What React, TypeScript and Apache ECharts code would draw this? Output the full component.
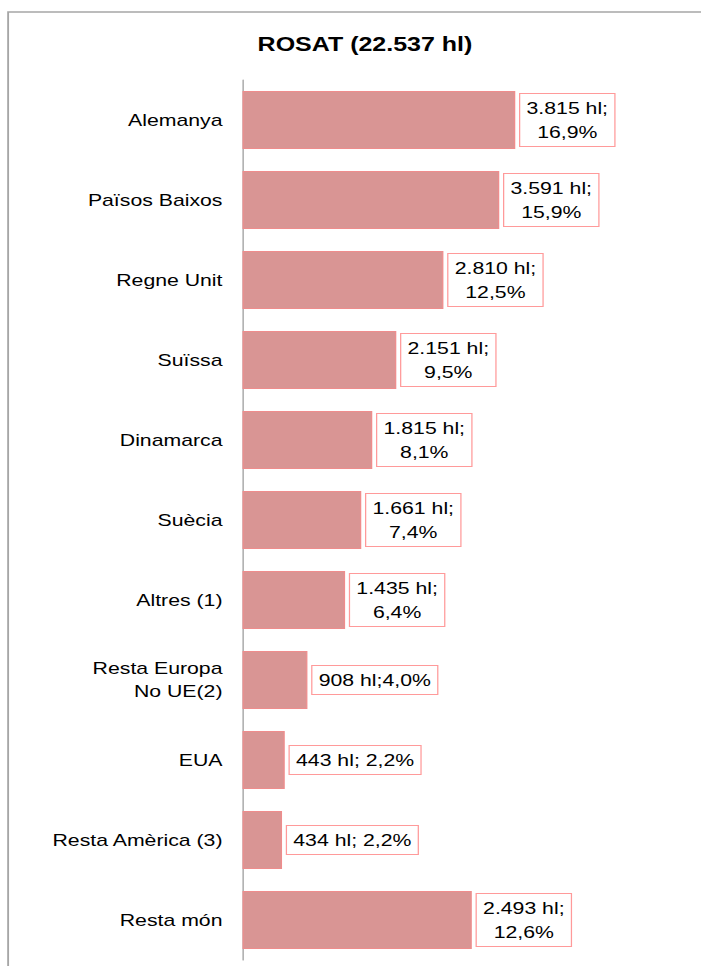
import React, { useEffect, useRef } from "react";
import * as echarts from "echarts";

const categories = [
  "Alemanya",
  "Països Baixos",
  "Regne Unit",
  "Suïssa",
  "Dinamarca",
  "Suècia",
  "Altres (1)",
  "Resta Europa\nNo UE(2)",
  "EUA",
  "Resta Amèrica (3)",
  "Resta món",
];

// bar lengths (hl) as drawn
const volumes = [3815, 3591, 2810, 2151, 1815, 1661, 1435, 908, 591, 553, 3207];

// label texts as printed on the chart
const labelTexts = [
  "3.815 hl;\n16,9%",
  "3.591 hl;\n15,9%",
  "2.810 hl;\n12,5%",
  "2.151 hl;\n9,5%",
  "1.815 hl;\n8,1%",
  "1.661 hl;\n7,4%",
  "1.435 hl;\n6,4%",
  "908 hl;4,0%",
  "443 hl; 2,2%",
  "434 hl; 2,2%",
  "2.493 hl;\n12,6%",
];

const titleText = "ROSAT (22.537 hl)";

const STRETCH = 1.25;
const FONT = "'Liberation Sans', Arial, Helvetica, sans-serif";

export default function App() {
  const ref = useRef<HTMLDivElement>(null);

  useEffect(() => {
    if (!ref.current) return;
    const chart = echarts.init(ref.current, null, { renderer: "svg" });
    chart.setOption({
      animation: false,
      backgroundColor: "#ffffff",
      textStyle: { fontFamily: FONT },
      title: {
        text: titleText,
        left: 287,
        top: 29,
        textAlign: "center",
        textStyle: { fontFamily: FONT, fontSize: 20, fontWeight: "bold", color: "#000" },
      },
      graphic: [
        {
          type: "rect",
          shape: { x: 6.5, y: 12, width: 800, height: 1200 },
          style: { fill: "none", stroke: "#a6a6a6", lineWidth: 1.5 },
          silent: true,
        },
      ],
      grid: { left: 194, top: 80, width: 286, height: 880, containLabel: false },
      xAxis: {
        type: "value",
        min: 0,
        max: 5000,
        show: false,
      },
      yAxis: {
        type: "category",
        data: categories,
        inverse: true,
        axisLine: { show: true, lineStyle: { color: "#9a9a9a", width: 1 } },
        axisTick: { show: false },
        axisLabel: {
          margin: 16,
          fontFamily: FONT,
          fontSize: 17,
          lineHeight: 23,
          color: "#000",
          align: "right",
        },
        splitLine: { show: false },
      },
      series: [
        {
          type: "bar",
          data: volumes,
          barWidth: 58,
          itemStyle: { color: "#d99594", borderColor: "#ef8c8c", borderWidth: 1 },
          label: {
            show: true,
            position: "right",
            distance: 4,
            formatter: (p: any) =>
              labelTexts[p.dataIndex]
                .split("\n")
                .map((line) => `{c|${line}}`)
                .join("\n"),
            fontFamily: FONT,
            fontSize: 17,
            lineHeight: 24,
            color: "#000",
            backgroundColor: "#fff",
            borderColor: "#ff9a9a",
            borderWidth: 1,
            padding: [2, 5],
            rich: {
              c: {
                align: "center",
                fontFamily: FONT,
                fontSize: 17,
                lineHeight: 24,
                color: "#000",
              },
            },
          },
        },
      ],
    });
    return () => chart.dispose();
  }, []);

  return (
    <div
      style={{
        position: "absolute",
        left: 0,
        top: 0,
        width: 701 / STRETCH,
        height: 966,
        transform: `scaleX(${STRETCH})`,
        transformOrigin: "0 0",
      }}
    >
      <div ref={ref} style={{ width: 701 / STRETCH, height: 966 }} />
    </div>
  );
}
